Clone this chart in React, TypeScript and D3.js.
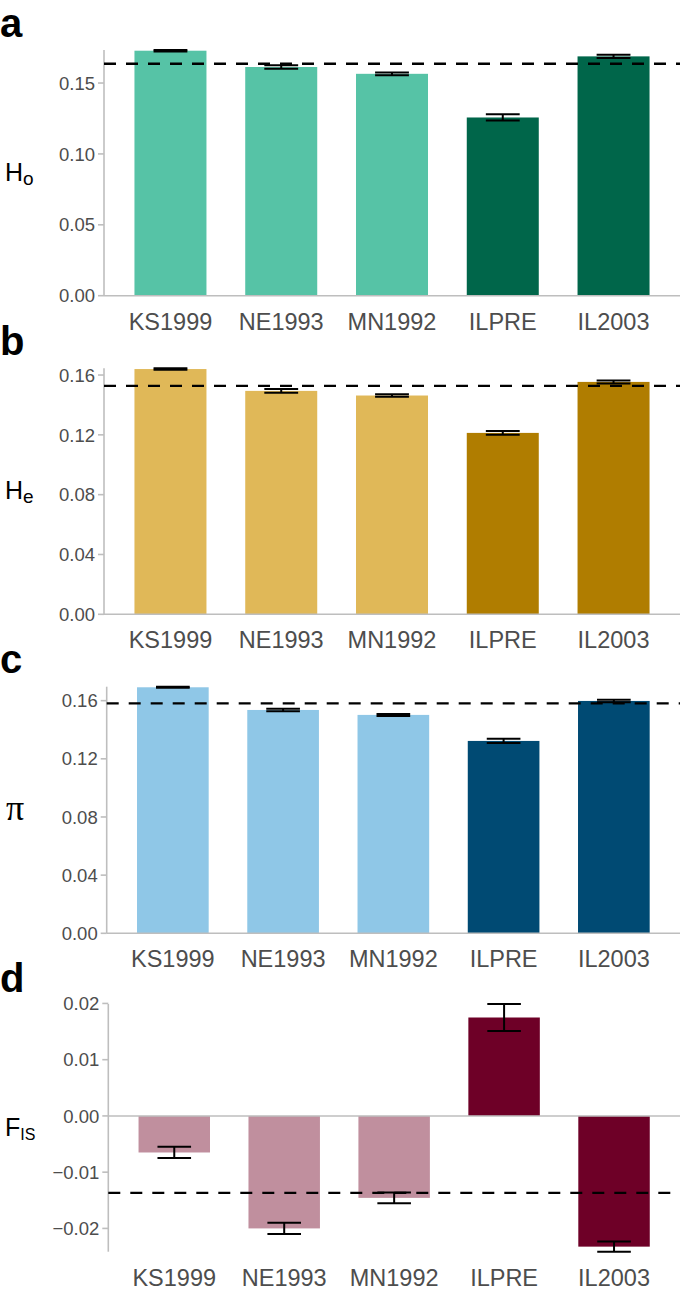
import React from "react";
import * as d3 from "d3";

const categories = ["KS1999", "NE1993", "MN1992", "ILPRE", "IL2003"];
const darkGroups = ["ILPRE", "IL2003"];

const hoValues = [0.1728, 0.1613, 0.1565, 0.1257, 0.1688];
const hoErrors = [0.0005, 0.0013, 0.0010, 0.0022, 0.0012];
const hoMean = 0.1636;

const heValues = [0.164, 0.1494, 0.1463, 0.1213, 0.1554];
const heErrors = [0.0005, 0.0012, 0.0008, 0.0013, 0.001];
const heMean = 0.1528;

const piValues = [0.1692, 0.1536, 0.1502, 0.1323, 0.1598];
const piErrors = [0.0004, 0.0008, 0.0007, 0.0015, 0.0009];
const piMean = 0.1582;

const fisValues = [-0.0065, -0.02, -0.01457, 0.0175, -0.02324];
const fisErrors = [0.001, 0.001, 0.00095, 0.0024, 0.0009];
const fisMean = -0.01368;

const hoTicks = [0, 0.05, 0.1, 0.15];
const heTicks = [0, 0.04, 0.08, 0.12, 0.16];
const piTicks = [0, 0.04, 0.08, 0.12, 0.16];
const fisTicks = [-0.02, -0.01, 0, 0.01, 0.02];

type Panel = {
  letter: string;
  title: string;
  sub: string;
  values: number[];
  errors: number[];
  mean: number;
  ticks: number[];
  light: string;
  dark: string;
  axisX: number;
  top: number;
  bottom: number;
  letterY: number;
  serifTitle?: boolean;
};

const panels: Panel[] = [
  { letter: "a", title: "H", sub: "o", values: hoValues, errors: hoErrors, mean: hoMean, ticks: hoTicks, light: "#56C3A6", dark: "#00664A", axisX: 104, top: 50, bottom: 295.7, letterY: 37 },
  { letter: "b", title: "H", sub: "e", values: heValues, errors: heErrors, mean: heMean, ticks: heTicks, light: "#E0B858", dark: "#B07D00", axisX: 104, top: 368.3, bottom: 614.3, letterY: 355 },
  { letter: "c", title: "\u03C0", sub: "", values: piValues, errors: piErrors, mean: piMean, ticks: piTicks, light: "#8FC7E7", dark: "#004A73", axisX: 106.7, top: 686.7, bottom: 933.3, letterY: 673, serifTitle: true },
  { letter: "d", title: "F", sub: "IS", values: fisValues, errors: fisErrors, mean: fisMean, ticks: fisTicks, light: "#C08F9E", dark: "#6E0027", axisX: 108.3, top: 1004, bottom: 1251.7, letterY: 992 },
];

const RIGHT = 680;
const AXIS_GRAY = "#BEBEBE";
const TEXT_GRAY = "#4D4D4D";
const SANS = "'Liberation Sans', Arial, Helvetica, sans-serif";

function PanelView({ p }: { p: Panel }) {
  const lo = Math.min(0, d3.min(p.values.map((v, i) => v - p.errors[i]))!);
  const hi = Math.max(0, d3.max(p.values.map((v, i) => v + p.errors[i]))!);
  const y = d3.scaleLinear().domain([lo, hi]).range([p.bottom, p.top]);
  const step = (RIGHT - p.axisX) / (categories.length + 0.2);
  const x = d3
    .scaleBand<string>()
    .domain(categories)
    .range([p.axisX + 0.1 * step, RIGHT - 0.1 * step])
    .paddingInner(0.35)
    .paddingOuter(0.175);
  const bw = x.bandwidth();
  const capW = bw * 0.47;
  const fmt = d3.format(".2f");
  const tickFmt = (t: number) => (t < 0 ? "\u2212" + fmt(-t) : fmt(t));
  const midY = (p.top + p.bottom) / 2;

  return (
    <g>
      <text x={0} y={p.letterY} fontFamily={SANS} fontWeight="bold" fontSize={40} fill="#000">
        {p.letter}
      </text>
      {p.serifTitle ? (
        <text x={6} y={midY + 10} fontFamily="'Liberation Serif', 'DejaVu Serif', serif" fontSize={36} fill="#000">
          {p.title}
        </text>
      ) : (
        <text x={5} y={midY + 8} fontFamily={SANS} fontSize={25} fill="#000">
          {p.title}
          <tspan dy={4} fontSize={p.sub.length > 1 ? 16 : 19}>
            {p.sub}
          </tspan>
        </text>
      )}
      {categories.map((c, i) => {
        const v = p.values[i];
        const y1 = y(Math.max(0, v));
        const y2 = y(Math.min(0, v));
        return (
          <rect
            key={c}
            x={x(c)}
            y={y1}
            width={bw}
            height={y2 - y1}
            fill={darkGroups.includes(c) ? p.dark : p.light}
          />
        );
      })}
      <line x1={p.axisX} x2={RIGHT} y1={y(0)} y2={y(0)} stroke={AXIS_GRAY} strokeWidth={1.6} />
      <line x1={p.axisX} x2={p.axisX} y1={p.top} y2={p.bottom} stroke={AXIS_GRAY} strokeWidth={1.6} />
      {p.ticks.map((t) => (
        <g key={t}>
          <line x1={p.axisX - 6} x2={p.axisX} y1={y(t)} y2={y(t)} stroke={AXIS_GRAY} strokeWidth={1.6} />
          <text
            x={p.axisX - 9}
            y={y(t)}
            dy="0.36em"
            textAnchor="end"
            fontFamily={SANS}
            fontSize={18.5}
            fill={TEXT_GRAY}
          >
            {tickFmt(t)}
          </text>
        </g>
      ))}
      {categories.map((c, i) => {
        const cx = x(c)! + bw / 2;
        const ya = y(p.values[i] + p.errors[i]);
        const yb = y(p.values[i] - p.errors[i]);
        return (
          <g key={c} stroke="#000" strokeWidth={2}>
            <line x1={cx} x2={cx} y1={ya} y2={yb} />
            <line x1={cx - capW / 2} x2={cx + capW / 2} y1={ya} y2={ya} />
            <line x1={cx - capW / 2} x2={cx + capW / 2} y1={yb} y2={yb} />
          </g>
        );
      })}
      <line
        x1={p.axisX}
        x2={RIGHT}
        y1={y(p.mean)}
        y2={y(p.mean)}
        stroke="#000"
        strokeWidth={2.3}
        strokeDasharray="12 10"
      />
      {categories.map((c) => (
        <text
          key={c}
          x={x(c)! + bw / 2}
          y={p.bottom + 34}
          textAnchor="middle"
          fontFamily={SANS}
          fontSize={23.5}
          fill={TEXT_GRAY}
        >
          {c}
        </text>
      ))}
    </g>
  );
}

export default function App() {
  return (
    <svg
      width={685}
      height={1292}
      viewBox="0 0 685 1292"
      style={{ position: "absolute", left: 0, top: 0, display: "block", background: "#fff" }}
    >
      <rect x={0} y={0} width={685} height={1292} fill="#fff" />
      {panels.map((p) => (
        <PanelView key={p.letter} p={p} />
      ))}
    </svg>
  );
}
